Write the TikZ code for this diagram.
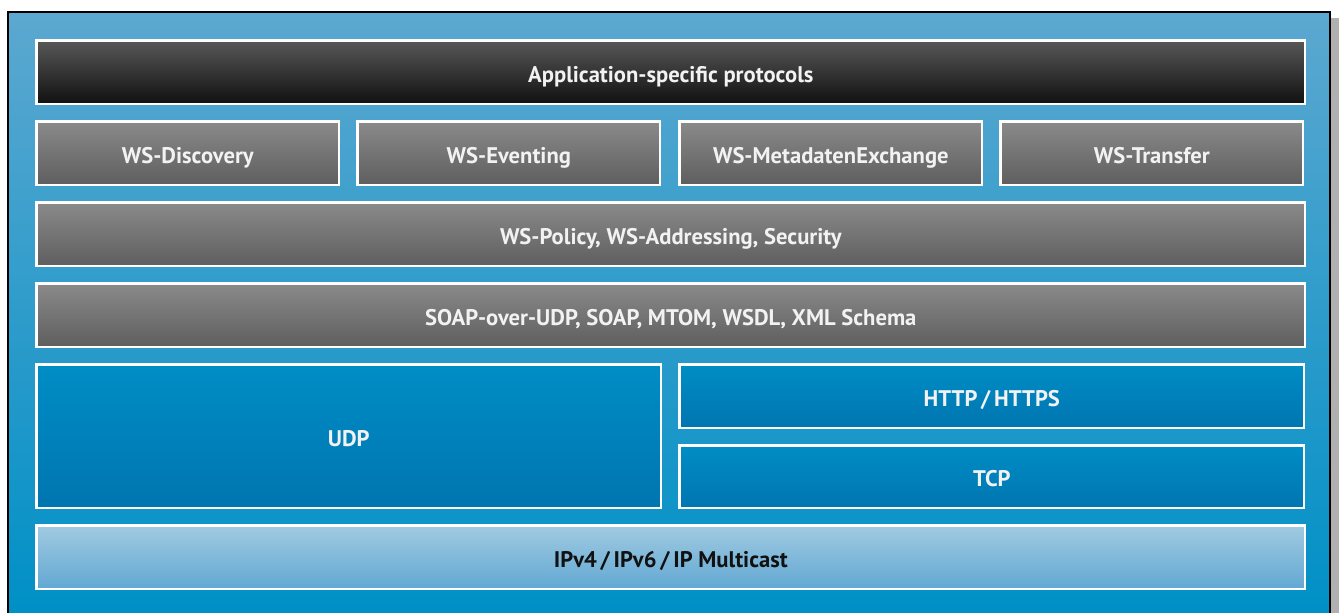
\documentclass[tikz,border=0pt]{standalone}
\usepackage{fontspec}
\setmainfont{PT Sans}
\definecolor{bgtop}{HTML}{5CA8D0}
\definecolor{bgbot}{HTML}{0090C6}
\definecolor{graytop}{HTML}{8A8A8A}
\definecolor{graybot}{HTML}{5E5E5E}
\definecolor{darktop}{HTML}{585858}
\definecolor{darkbot}{HTML}{101010}
\definecolor{bluetop}{HTML}{008DC5}
\definecolor{bluebot}{HTML}{0075B0}
\definecolor{iptop}{HTML}{A0CAE1}
\definecolor{ipbot}{HTML}{62A8D3}
\definecolor{txtwhite}{HTML}{F2F2F2}
\definecolor{txtdark}{HTML}{111111}
\definecolor{shadowgray}{HTML}{B0B0B0}
\tikzset{
  layerbox/.style={draw=white, line width=2.6pt, inner sep=0pt, anchor=north west,
    font=\fontsize{22.6}{26}\selectfont\bfseries, text=txtwhite,
    text height=21pt, text depth=1.5pt},
  graybox/.style={layerbox, top color=graytop, bottom color=graybot},
  darkbox/.style={layerbox, top color=darktop, bottom color=darkbot},
  bluebox/.style={layerbox, top color=bluetop, bottom color=bluebot},
  ipbox/.style={layerbox, top color=iptop, bottom color=ipbot, text=txtdark},
}
\begin{document}
\begin{tikzpicture}[x=1pt,y=1pt]
\useasboundingbox (0,0) rectangle (1339,613);
% shadow
\fill[shadowgray] (1330,0) rectangle (1339,595);
% background panel
\shade[top color=bgtop, bottom color=bgbot] (8,0) rectangle (1330,601);
\draw[black, line width=1.6pt] (8,0) -- (8,601) -- (1330,601) -- (1330,0);
% boxes: outer extents, px coords with y flipped (613 - py)
\node[darkbox, minimum width=1268.4, minimum height=63.4] (app) at (35.3,613-39.3) {Application-specific protocols};
\node[graybox, minimum width=302.4, minimum height=63.4] (disc) at (35.3,613-120.3) {WS-Discovery};
\node[graybox, minimum width=302.4, minimum height=63.4] (event) at (356.3,613-120.3) {WS-Eventing};
\node[graybox, minimum width=302.4, minimum height=63.4] (meta) at (678.3,613-120.3) {WS-MetadatenExchange};
\node[graybox, minimum width=302.4, minimum height=63.4] (trans) at (999.3,613-120.3) {WS-Transfer};
\node[graybox, minimum width=1268.4, minimum height=63.4] (policy) at (35.3,613-201.3) {WS-Policy, WS-Addressing, Security};
\node[graybox, minimum width=1268.4, minimum height=63.4] (soap) at (35.3,613-282.3) {SOAP-over-UDP, SOAP, MTOM, WSDL, XML Schema};
\node[bluebox, minimum width=624.4, minimum height=143.4] (udp) at (35.3,613-363.3) {UDP};
\node[bluebox, minimum width=624.4, minimum height=63.4] (http) at (678.3,613-363.3) {HTTP\,/\,HTTPS};
\node[bluebox, minimum width=624.4, minimum height=62.4] (tcp) at (678.3,613-444.3) {TCP};
\node[ipbox, minimum width=1268.4, minimum height=63.4] (ip) at (35.3,613-524.3) {IPv4\,/\,IPv6\,/\,IP Multicast};
\end{tikzpicture}
\end{document}
